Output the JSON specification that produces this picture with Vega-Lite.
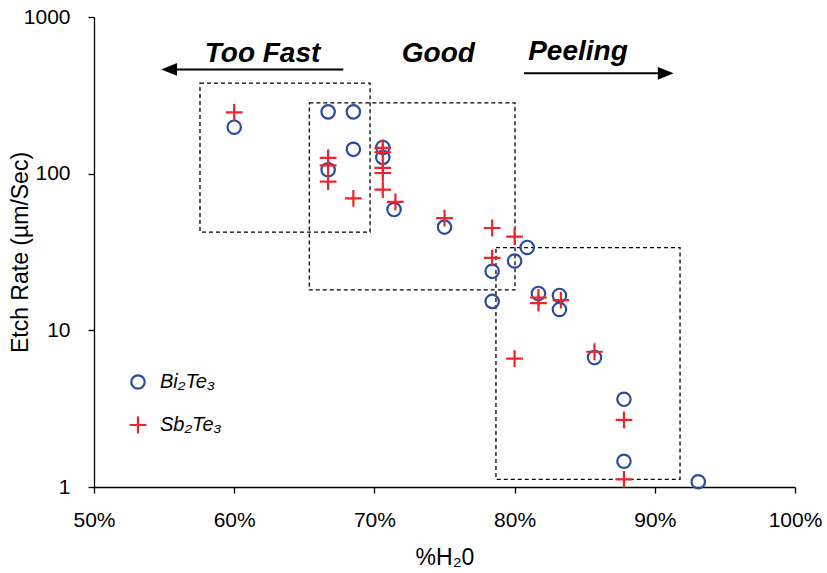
{
  "$schema": "https://vega.github.io/schema/vega-lite/v6.json",
  "width": 701,
  "height": 470,
  "autosize": "none",
  "padding": {"left": 94, "top": 17, "right": 32, "bottom": 86},
  "background": "white",
  "config": {
    "view": {"stroke": null},
    "font": "Liberation Sans",
    "axis": {"grid": false, "labelFlush": false, "domainColor": "black", "domainWidth": 1.3, "tickColor": "black", "tickWidth": 1.3, "tickSize": 6, "labelColor": "black", "titleColor": "black", "labelFont": "Liberation Sans", "titleFont": "Liberation Sans", "labelFontSize": 21, "titleFontSize": 23, "titleFontWeight": "normal"}
  },
  "datasets": {
    "pts": [
      {"h2o": 60.0, "rate": 198, "mat": "Bi₂Te₃"},
      {"h2o": 66.7, "rate": 248, "mat": "Bi₂Te₃"},
      {"h2o": 68.5, "rate": 248, "mat": "Bi₂Te₃"},
      {"h2o": 68.5, "rate": 143, "mat": "Bi₂Te₃"},
      {"h2o": 66.7, "rate": 106, "mat": "Bi₂Te₃"},
      {"h2o": 70.6, "rate": 147, "mat": "Bi₂Te₃"},
      {"h2o": 70.6, "rate": 127, "mat": "Bi₂Te₃"},
      {"h2o": 71.4, "rate": 59, "mat": "Bi₂Te₃"},
      {"h2o": 75.0, "rate": 45.6, "mat": "Bi₂Te₃"},
      {"h2o": 78.4, "rate": 23.8, "mat": "Bi₂Te₃"},
      {"h2o": 78.4, "rate": 15.3, "mat": "Bi₂Te₃"},
      {"h2o": 80.0, "rate": 27.7, "mat": "Bi₂Te₃"},
      {"h2o": 80.9, "rate": 33.8, "mat": "Bi₂Te₃"},
      {"h2o": 81.7, "rate": 17.2, "mat": "Bi₂Te₃"},
      {"h2o": 83.2, "rate": 16.7, "mat": "Bi₂Te₃"},
      {"h2o": 83.2, "rate": 13.6, "mat": "Bi₂Te₃"},
      {"h2o": 85.7, "rate": 6.7, "mat": "Bi₂Te₃"},
      {"h2o": 87.8, "rate": 3.63, "mat": "Bi₂Te₃"},
      {"h2o": 87.8, "rate": 1.46, "mat": "Bi₂Te₃"},
      {"h2o": 93.1, "rate": 1.08, "mat": "Bi₂Te₃"},
      {"h2o": 60.0, "rate": 246, "mat": "Sb₂Te₃"},
      {"h2o": 66.7, "rate": 126, "mat": "Sb₂Te₃"},
      {"h2o": 66.7, "rate": 113, "mat": "Sb₂Te₃"},
      {"h2o": 66.7, "rate": 89, "mat": "Sb₂Te₃"},
      {"h2o": 68.5, "rate": 69.5, "mat": "Sb₂Te₃"},
      {"h2o": 70.6, "rate": 146, "mat": "Sb₂Te₃"},
      {"h2o": 70.6, "rate": 137, "mat": "Sb₂Te₃"},
      {"h2o": 70.6, "rate": 109, "mat": "Sb₂Te₃"},
      {"h2o": 70.6, "rate": 101, "mat": "Sb₂Te₃"},
      {"h2o": 70.6, "rate": 79, "mat": "Sb₂Te₃"},
      {"h2o": 71.5, "rate": 66, "mat": "Sb₂Te₃"},
      {"h2o": 75.0, "rate": 52, "mat": "Sb₂Te₃"},
      {"h2o": 78.4, "rate": 45, "mat": "Sb₂Te₃"},
      {"h2o": 78.4, "rate": 29, "mat": "Sb₂Te₃"},
      {"h2o": 80.0, "rate": 39.6, "mat": "Sb₂Te₃"},
      {"h2o": 80.0, "rate": 6.6, "mat": "Sb₂Te₃"},
      {"h2o": 81.7, "rate": 16.2, "mat": "Sb₂Te₃"},
      {"h2o": 81.7, "rate": 14.9, "mat": "Sb₂Te₃"},
      {"h2o": 83.3, "rate": 15.6, "mat": "Sb₂Te₃"},
      {"h2o": 85.7, "rate": 7.3, "mat": "Sb₂Te₃"},
      {"h2o": 87.8, "rate": 2.68, "mat": "Sb₂Te₃"},
      {"h2o": 87.8, "rate": 1.12, "mat": "Sb₂Te₃"}
    ],
    "boxes": [
      {"x1": 57.56, "x2": 69.69, "y1": 42.4, "y2": 378},
      {"x1": 65.36, "x2": 80.03, "y1": 18.1, "y2": 283},
      {"x1": 78.67, "x2": 91.8, "y1": 1.12, "y2": 33.7}
    ],
    "labels": [
      {"x": 62.02, "y": 518, "text": "Too Fast"},
      {"x": 74.56, "y": 518, "text": "Good"},
      {"x": 84.52, "y": 530, "text": "Peeling"}
    ],
    "arrows": [
      {"x1": 55.5, "x2": 67.78, "y": 463, "dir": "left", "hx": 55.36},
      {"x1": 80.67, "x2": 90.6, "y": 437, "dir": "right", "hx": 90.78}
    ]
  },
  "layer": [
    {
      "data": {"name": "boxes"},
      "mark": {"type": "rect", "fill": null, "stroke": "black", "strokeWidth": 1.3, "strokeDash": [4, 3]},
      "encoding": {
        "x": {"field": "x1", "type": "quantitative", "scale": {"domain": [50, 100]}},
        "x2": {"field": "x2"},
        "y": {"field": "y1", "type": "quantitative", "scale": {"type": "log", "domain": [1, 1000]}},
        "y2": {"field": "y2"}
      }
    },
    {
      "data": {"name": "arrows"},
      "mark": {"type": "rule", "color": "black", "strokeWidth": 2},
      "encoding": {
        "x": {"field": "x1", "type": "quantitative"},
        "x2": {"field": "x2"},
        "y": {"field": "y", "type": "quantitative"}
      }
    },
    {
      "data": {"name": "arrows"},
      "transform": [{"filter": "datum.dir == 'left'"}],
      "mark": {"type": "point", "filled": true, "color": "black", "size": 250, "strokeWidth": 0, "opacity": 1, "shape": "M-1,0L1,-0.8L1,0.8Z"},
      "encoding": {
        "x": {"field": "hx", "type": "quantitative"},
        "y": {"field": "y", "type": "quantitative"}
      }
    },
    {
      "data": {"name": "arrows"},
      "transform": [{"filter": "datum.dir == 'right'"}],
      "mark": {"type": "point", "filled": true, "color": "black", "size": 250, "strokeWidth": 0, "opacity": 1, "shape": "M1,0L-1,-0.8L-1,0.8Z"},
      "encoding": {
        "x": {"field": "hx", "type": "quantitative"},
        "y": {"field": "y", "type": "quantitative"}
      }
    },
    {
      "data": {"name": "labels"},
      "mark": {"type": "text", "font": "Liberation Sans", "fontSize": 28, "fontWeight": "bold", "fontStyle": "italic", "align": "center", "baseline": "alphabetic", "color": "black"},
      "encoding": {
        "x": {"field": "x", "type": "quantitative"},
        "y": {"field": "y", "type": "quantitative"},
        "text": {"field": "text"}
      }
    },
    {
      "data": {"name": "pts"},
      "mark": {"type": "point", "filled": false, "strokeWidth": 2.2, "size": 180, "opacity": 1},
      "encoding": {
        "x": {"field": "h2o", "type": "quantitative", "title": "%H₂0",
          "axis": {"values": [50, 60, 70, 80, 90, 100], "labelExpr": "datum.value + '%'", "labelPadding": 16, "titleY": 70, "titleBaseline": "middle"}},
        "y": {"field": "rate", "type": "quantitative", "title": "Etch Rate (µm/Sec)",
          "axis": {"values": [1, 10, 100, 1000], "format": "d", "labelPadding": 18, "titleX": -74, "titleY": 235, "titleBaseline": "middle", "titleAngle": -90}},
        "color": {"field": "mat", "type": "nominal", "scale": {"domain": ["Bi₂Te₃", "Sb₂Te₃"], "range": ["#2B4C9F", "#F0232B"]},
          "legend": {"title": null, "orient": "none", "legendX": 34, "legendY": 355, "labelFontSize": 20, "labelFontStyle": "italic", "labelFont": "Liberation Sans", "labelColor": "black", "rowPadding": 18, "labelOffset": 12, "symbolStrokeWidth": 2.2, "symbolSize": 180}},
        "shape": {"field": "mat", "type": "nominal", "scale": {"domain": ["Bi₂Te₃", "Sb₂Te₃"], "range": ["circle", "M-1.25,0H1.25M0,-1.25V1.25"]}}
      }
    }
  ]
}
